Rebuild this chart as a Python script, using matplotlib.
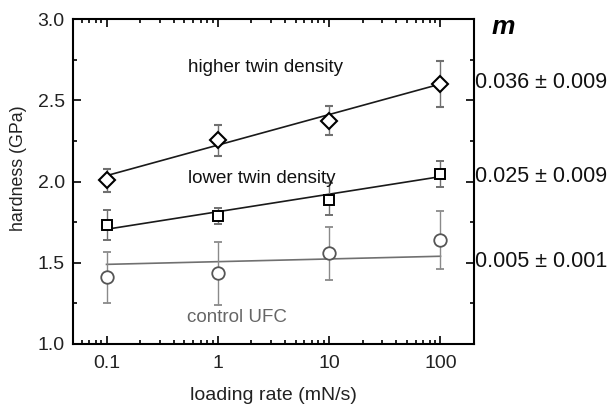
import numpy as np
import matplotlib.pyplot as plt
from matplotlib.ticker import LogLocator, MultipleLocator, FixedLocator, FixedFormatter

plt.rcParams['font.family'] = ['Liberation Sans', 'DejaVu Sans']

rate = [0.1, 1, 10, 100]

# hardness (GPa) and error bars (lower, upper)
high = [2.01, 2.255, 2.375, 2.60]
high_lo = [0.075, 0.095, 0.09, 0.14]
high_hi = [0.07, 0.095, 0.09, 0.14]
high_fit = [2.036, 2.60]

low = [1.732, 1.79, 1.886, 2.048]
low_lo = [0.09, 0.05, 0.095, 0.08]
low_hi = [0.09, 0.05, 0.105, 0.08]
low_fit = [1.706, 2.03]

ctrl = [1.412, 1.435, 1.558, 1.64]
ctrl_lo = [0.157, 0.195, 0.164, 0.178]
ctrl_hi = [0.157, 0.195, 0.164, 0.178]
ctrl_fit = [1.49, 1.54]

slopes = ['0.036 ± 0.009', '0.025 ± 0.009', '0.005 ± 0.001']
slope_y = [2.61, 2.03, 1.505]

fig = plt.figure(figsize=(6.08, 4.08), dpi=100)
ax = fig.add_axes([73 / 608, 1 - 344 / 408, 401 / 608, 325 / 408])

fit_x = [rate[0], rate[-1]]
ax.plot(fit_x, high_fit, color='#1a1a1a', lw=1.2)
ax.plot(fit_x, low_fit, color='#1a1a1a', lw=1.2)
ax.plot(fit_x, ctrl_fit, color='#707070', lw=1.2)

ax.errorbar(rate, high, yerr=[high_lo, high_hi], fmt='D', ms=8, mfc='white', mec='black',
            mew=1.5, ecolor='#707070', elinewidth=1, capsize=3, zorder=3)
ax.errorbar(rate, low, yerr=[low_lo, low_hi], fmt='s', ms=7, mfc='white', mec='black',
            mew=1.4, ecolor='#707070', elinewidth=1, capsize=3, zorder=3)
ax.errorbar(rate, ctrl, yerr=[ctrl_lo, ctrl_hi], fmt='o', ms=9, mfc='white', mec='#555555',
            mew=1.3, ecolor='#8a8a8a', elinewidth=1, capsize=3, zorder=3)

ax.set_xscale('log')
ax.set_xlim(0.05, 200)
ax.set_ylim(1.0, 3.0)
ax.xaxis.set_major_locator(FixedLocator(rate))
ax.xaxis.set_major_formatter(FixedFormatter(['0.1', '1', '10', '100']))
ax.xaxis.set_minor_locator(LogLocator(base=10, subs=np.arange(2, 10)))
ax.yaxis.set_major_locator(MultipleLocator(0.5))
ax.yaxis.set_minor_locator(MultipleLocator(0.25))
ax.tick_params(which='both', direction='in', top=True, right=True, labelsize=14, width=1.2,
               labelcolor='#222222')
ax.tick_params(which='major', length=6)
ax.tick_params(which='minor', length=3)
ax.tick_params(axis='y', pad=6)
ax.tick_params(axis='x', pad=8)
for s in ax.spines.values():
    s.set_linewidth(1.5)

ax.set_xlabel('loading rate (mN/s)', fontsize=14, labelpad=11, color='#222222')
ax.set_ylabel('hardness (GPa)', fontsize=12.8, color='#222222')
ax.yaxis.set_label_coords(-0.115, 0.54)

ax.text(0.48, 0.852, 'higher twin density', transform=ax.transAxes, fontsize=13.5,
        ha='center', va='center', color='#111111')
ax.text(0.47, 0.51, 'lower twin density', transform=ax.transAxes, fontsize=13.5,
        ha='center', va='center', color='#111111')
ax.text(0.41, 0.083, 'control UFC', transform=ax.transAxes, fontsize=13.5,
        ha='center', va='center', color='#666666')

for s, y in zip(slopes, slope_y):
    ax.text(1.003, (y - 1.0) / 2.0, s, transform=ax.transAxes, fontsize=15.5,
            va='center', ha='left', color='#111111')
ax.text(1.045, 0.975, 'm', transform=ax.transAxes, fontsize=19, fontweight='bold',
        fontstyle='italic', va='center', ha='left')

fig.savefig('out.png', dpi=100)
